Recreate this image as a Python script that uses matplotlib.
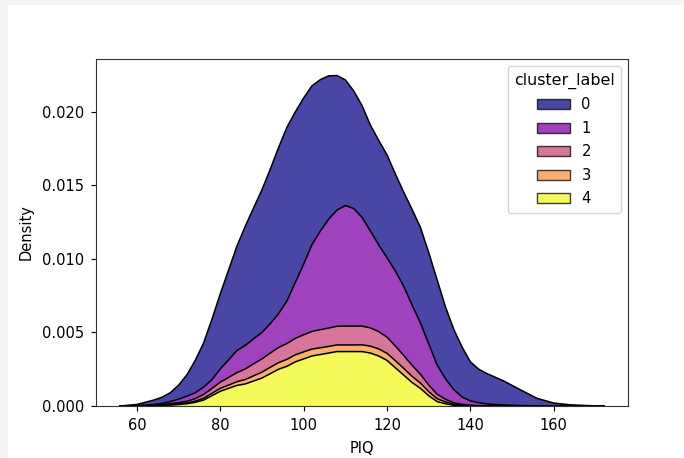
import numpy as np
import matplotlib
matplotlib.use("Agg")
import matplotlib.pyplot as plt
from matplotlib.patches import Patch, Rectangle
from matplotlib.ticker import FormatStrFormatter

# ---- data (density of PIQ per cluster, stacked) ----
piq = [56, 60,
       64, 66, 68, 70, 72, 74, 76, 78, 80, 82, 84, 86, 88, 90, 92, 94, 96, 98,
       100, 102, 104, 106, 108, 110, 112, 114, 116, 118, 120, 122, 124, 126, 128,
       130, 132, 134, 136, 138, 140, 142, 144, 146, 148,
       152, 156, 160, 164, 168, 172]

dens_4 = [0, 0.000005,
          0.00002, 0.00004, 0.00006, 0.0001, 0.00015, 0.00025, 0.0004, 0.0007, 0.0010,
          0.0012, 0.0014, 0.0015, 0.0017, 0.0019, 0.0022, 0.0025, 0.0027, 0.0030,
          0.0032, 0.0034, 0.0035, 0.0036, 0.0037, 0.0037, 0.0037, 0.0037, 0.0036, 0.0034,
          0.0031, 0.0026, 0.0021, 0.0016, 0.0012,
          0.0007, 0.0003, 0.00015, 0.00005, 0.00002, 0, 0, 0, 0, 0,
          0, 0, 0, 0, 0, 0]

dens_3 = [0, 0.000005,
          0.00001, 0.00002, 0.00004, 0.00005, 0.00006, 0.00008, 0.00012, 0.00016, 0.0002,
          0.00022, 0.00025, 0.0003, 0.00035, 0.0004, 0.00043, 0.00045, 0.00047, 0.00048,
          0.00048, 0.00047, 0.00046, 0.00045, 0.00045, 0.00045, 0.00045, 0.00046, 0.00047, 0.00048,
          0.00048, 0.00048, 0.00046, 0.00042, 0.00036,
          0.00028, 0.0002, 0.00013, 0.00007, 0.00004, 0.00002, 0.00001, 0, 0, 0,
          0, 0, 0, 0, 0, 0]

dens_2 = [0, 0.000005,
          0.00002, 0.00003, 0.00005, 0.00008, 0.00011, 0.00017, 0.00026, 0.00033, 0.00042,
          0.00052, 0.00062, 0.00072, 0.00082, 0.0009, 0.00097, 0.00103, 0.00108, 0.00112,
          0.00116, 0.0012, 0.00123, 0.00125, 0.00127, 0.00128, 0.00128, 0.00127, 0.00124, 0.00118,
          0.0011, 0.0010, 0.00088, 0.00075, 0.0006,
          0.00045, 0.0003, 0.00018, 0.0001, 0.00005, 0.00003, 0.00002, 0.00001, 0, 0,
          0, 0, 0, 0, 0, 0]

dens_1 = [0, 0.00001,
          0.00005, 0.00008, 0.00015, 0.00023, 0.00035, 0.0004, 0.0005, 0.0006, 0.0009,
          0.0012, 0.0015, 0.0016, 0.0017, 0.0018, 0.0020, 0.0023, 0.0029, 0.0038,
          0.0048, 0.0059, 0.0067, 0.0074, 0.0079, 0.0082, 0.0080, 0.0074, 0.0066, 0.0059,
          0.0054, 0.0051, 0.0047, 0.0041, 0.0035,
          0.0028, 0.0020, 0.0014, 0.0009, 0.0005, 0.0003, 0.0002, 0.00013, 0.0001, 0.00007,
          0.00003, 0, 0, 0, 0, 0]

dens_0 = [0, 0.00008,
          0.0003, 0.00042, 0.0006, 0.00095, 0.00145, 0.0022, 0.0030, 0.0041, 0.0051,
          0.0061, 0.0071, 0.0081, 0.0089, 0.0097, 0.0105, 0.0113, 0.0118, 0.0116,
          0.0113, 0.0108, 0.0103, 0.00975, 0.00915, 0.00855, 0.0080, 0.0076, 0.0072, 0.0071,
          0.0070, 0.0066, 0.0064, 0.0065, 0.0065,
          0.0062, 0.0058, 0.0049, 0.0041, 0.0034, 0.00265, 0.00227, 0.00206, 0.00185, 0.00163,
          0.00107, 0.00052, 0.0002, 0.00008, 0.00003, 0]

cluster_labels = ["0", "1", "2", "3", "4"]
x_ticks = [60, 80, 100, 120, 140, 160]
y_ticks = [0.000, 0.005, 0.010, 0.015, 0.020]

# ---- figure ----
fig = plt.figure(figsize=(6.84, 4.58), dpi=100, facecolor="#f4f4f4")
fig.patches.append(Rectangle((8 / 684, 0), 1, 1 - 5 / 458, transform=fig.transFigure,
                             facecolor="white", edgecolor="none", zorder=-10))
ax = fig.add_axes([96 / 684, 1 - 406 / 458, (628 - 96) / 684, (406 - 59) / 458])
ax.set_facecolor("white")

cmap = plt.get_cmap("plasma")
colors = [cmap(v) for v in np.linspace(0, 1, 5)]
series = [dens_0, dens_1, dens_2, dens_3, dens_4]
x = np.array(piq, dtype=float)

# stack: last cluster at bottom, first on top
base = np.zeros_like(x)
for i in [4, 3, 2, 1, 0]:
    top = base + np.array(series[i])
    ax.fill_between(x, base, top, facecolor=colors[i], alpha=0.75,
                    edgecolor="none")
    ax.plot(x, top, color="black", linewidth=1.1, solid_joinstyle="round")
    base = top

ax.set_xticks(x_ticks)
ax.set_yticks(y_ticks)
ax.yaxis.set_major_formatter(FormatStrFormatter("%.3f"))
ax.tick_params(axis="x", labelsize=10.5, pad=5.5)
ax.tick_params(axis="y", labelsize=10.5, pad=5)
ax.set_xlabel("PIQ", fontsize=10.5, labelpad=5.5)
ax.set_ylabel("Density", fontsize=10.5, labelpad=6)
ax.margins(x=0.05, y=0.05)
ax.set_ylim(bottom=0)
for s in ax.spines.values():
    s.set_color("#333333")

handles = [Patch(facecolor=colors[i], alpha=0.75, edgecolor="black", linewidth=1.0)
           for i in range(5)]
leg = ax.legend(handles, cluster_labels, title="cluster_label", loc="upper right",
                fontsize=10.6, title_fontsize=11.4, handlelength=2.2,
                labelspacing=0.58, borderpad=0.42)

fig.savefig("out.png", dpi=100, facecolor=fig.get_facecolor())
